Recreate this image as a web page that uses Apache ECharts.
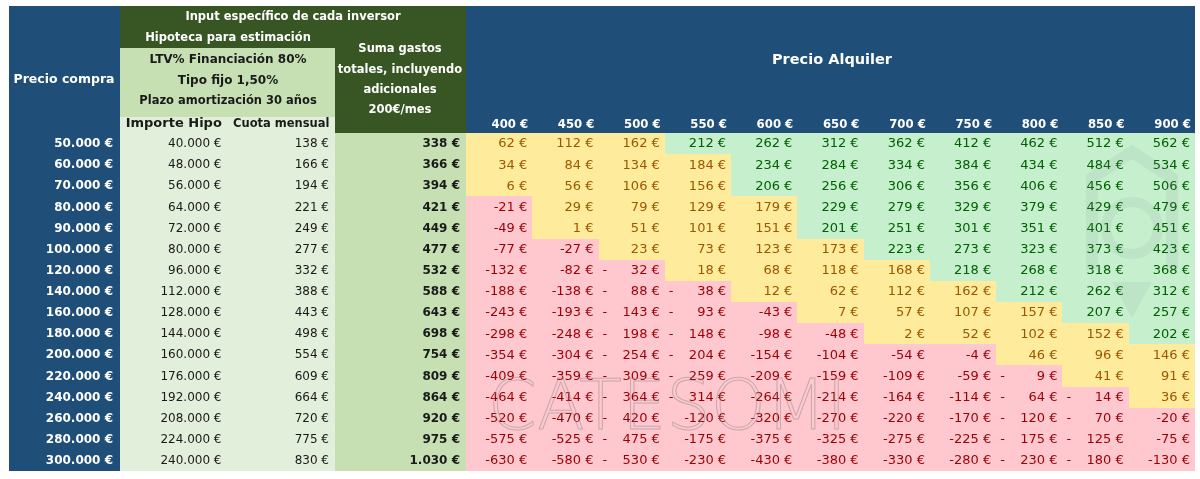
<!DOCTYPE html>
<html>
<head>
<meta charset="utf-8">
<script src="https://cdn.jsdelivr.net/npm/echarts@6/dist/echarts.min.js"></script>
<style>
  html, body { margin: 0; padding: 0; background: #ffffff; }
  #chart { width: 1200px; height: 479px; }
</style>
</head>
<body>
<div id="chart"></div>
<script>
// ---------------- DATA ----------------
const precioCompra = [50000, 60000, 70000, 80000, 90000, 100000, 120000, 140000, 160000, 180000, 200000, 220000, 240000, 260000, 280000, 300000];
const importeHipo = [40000, 48000, 56000, 64000, 72000, 80000, 96000, 112000, 128000, 144000, 160000, 176000, 192000, 208000, 224000, 240000];
const cuotaMensual = [138, 166, 194, 221, 249, 277, 332, 388, 443, 498, 554, 609, 664, 720, 775, 830];
const sumaGastos = [338, 366, 394, 421, 449, 477, 532, 588, 643, 698, 754, 809, 864, 920, 975, 1030];
const precioAlquiler = [400, 450, 500, 550, 600, 650, 700, 750, 800, 850, 900];
// Resultado mensual (alquiler - gastos) tal como aparece en la tabla
const resultado = [
  [62, 112, 162, 212, 262, 312, 362, 412, 462, 512, 562],
  [34, 84, 134, 184, 234, 284, 334, 384, 434, 484, 534],
  [6, 56, 106, 156, 206, 256, 306, 356, 406, 456, 506],
  [-21, 29, 79, 129, 179, 229, 279, 329, 379, 429, 479],
  [-49, 1, 51, 101, 151, 201, 251, 301, 351, 401, 451],
  [-77, -27, 23, 73, 123, 173, 223, 273, 323, 373, 423],
  [-132, -82, -32, 18, 68, 118, 168, 218, 268, 318, 368],
  [-188, -138, -88, -38, 12, 62, 112, 162, 212, 262, 312],
  [-243, -193, -143, -93, -43, 7, 57, 107, 157, 207, 257],
  [-298, -248, -198, -148, -98, -48, 2, 52, 102, 152, 202],
  [-354, -304, -254, -204, -154, -104, -54, -4, 46, 96, 146],
  [-409, -359, -309, -259, -209, -159, -109, -59, -9, 41, 91],
  [-464, -414, -364, -314, -264, -214, -164, -114, -64, -14, 36],
  [-520, -470, -420, -120, -320, -270, -220, -170, -120, -70, -20],
  [-575, -525, -475, -175, -375, -325, -275, -225, -175, -125, -75],
  [-630, -580, -530, -230, -430, -380, -330, -280, -230, -180, -130]
];
// Celdas con formato contable (signo "-" separado a la izquierda): [fila, columna]
const formatoContable = [];
for (let r = 6; r <= 15; r++) formatoContable.push([r, 2]);
for (let r = 7; r <= 12; r++) formatoContable.push([r, 3]);
for (let r = 11; r <= 15; r++) formatoContable.push([r, 8]);
for (let r = 12; r <= 15; r++) formatoContable.push([r, 9]);

// ---------------- HELPERS ----------------
const miles = n => String(Math.abs(n)).replace(/\B(?=(\d{3})+(?!\d))/g, '.');
const eur = n => (n < 0 ? '-' : '') + miles(n) + ' €';
const contable = new Set(formatoContable.map(p => p[0] + '_' + p[1]));

const FONT = '"DejaVu Sans", sans-serif';
const NARROW = '"Liberation Sans Narrow", "DejaVu Sans Condensed", sans-serif';
const BLUE = '#1f4e79';
const DKGREEN = '#375623';
const MDGREEN = '#c6e0b4';
const LTGREEN = '#e2efda';

function cellRect(c, s) {
  const x0 = Math.round(c[0] - s[0] / 2), x1 = Math.round(c[0] + s[0] / 2);
  const y0 = Math.round(c[1] - s[1] / 2), y1 = Math.round(c[1] + s[1] / 2);
  return { x: x0, y: y0, width: x1 - x0, height: y1 - y0 };
}

function cellRender(fill, color, font, pad) {
  return function (params, api) {
    const c = api.coord([api.value(0), api.value(1)]);
    const s = api.size([1, 1]);
    return {
      type: 'group',
      children: [
        { type: 'rect', shape: cellRect(c, s), style: { fill: fill } },
        { type: 'text', x: c[0] + s[0] / 2 - pad, y: c[1] + 0.5, style: { text: eur(api.value(2)), fill: color, font: font, align: 'right', verticalAlign: 'middle' } }
      ]
    };
  };
}

function heatRender(params, api) {
  const col = api.value(0), row = api.value(1), v = api.value(2);
  const c = api.coord([col, row]);
  const s = api.size([1, 1]);
  let bg, fg;
  if (v < 0) { bg = '#ffc7ce'; fg = '#9c0006'; }
  else if (v < 200) { bg = '#ffeb9c'; fg = '#9c5700'; }
  else { bg = '#c6efce'; fg = '#006100'; }
  const acc = contable.has(row + '_' + col) && v < 0;
  const font = '13px ' + FONT;
  const children = [
    { type: 'rect', shape: cellRect(c, s), style: { fill: bg } },
    { type: 'text', x: c[0] + s[0] / 2 - 5, y: c[1] + 0.5, style: { text: acc ? miles(v) + ' €' : eur(v), fill: fg, font: font, align: 'right', verticalAlign: 'middle' } }
  ];
  if (acc) {
    children.push({ type: 'text', x: c[0] - s[0] / 2 + 4, y: c[1] + 0.5, style: { text: '-', fill: fg, font: font, align: 'left', verticalAlign: 'middle' } });
  }
  return { type: 'group', children: children };
}

// ---------------- OPTION ----------------
const rows = precioCompra.map(String);
const gridTop = 133, gridH = 338;
const grids = [
  { left: 9, top: gridTop, width: 111, height: gridH },
  { left: 120, top: gridTop, width: 215, height: gridH },
  { left: 335, top: gridTop, width: 131, height: gridH },
  { left: 466, top: gridTop, width: 729, height: gridH }
];
const yAxes = grids.map((g, i) => ({ type: 'category', gridIndex: i, data: rows, inverse: true, show: false }));

const dataCompra = precioCompra.map((v, r) => [0, r, v]);
const dataHipo = [];
importeHipo.forEach((v, r) => dataHipo.push([0, r, v]));
cuotaMensual.forEach((v, r) => dataHipo.push([1, r, v]));
const dataSuma = sumaGastos.map((v, r) => [0, r, v]);
const dataHeat = [];
resultado.forEach((row, r) => row.forEach((v, c) => dataHeat.push([c, r, v])));

const W = '#ffffff';
const headerText = (txt, x, y, size, color, weight) => ({
  type: 'text', x: x, y: y, z: 10,
  style: { text: txt, fill: color || W, font: (weight || 'bold') + ' ' + size + 'px ' + FONT, align: 'center', verticalAlign: 'middle' }
});

const option = {
  animation: false,
  backgroundColor: '#ffffff',
  grid: grids,
  xAxis: [
    { type: 'category', gridIndex: 0, data: ['Precio compra'], show: false },
    {
      type: 'category', gridIndex: 1, data: ['Importe Hipo', 'Cuota mensual'], position: 'top',
      axisLine: { show: false }, axisTick: { show: false },
      axisLabel: {
        margin: 3, interval: 0, color: '#1a1a1a', fontFamily: FONT, fontWeight: 'bold', fontSize: 12,
        formatter: (v, i) => i === 0 ? '{a|' + v + '}' : '{b|' + v + '}',
        rich: { a: { fontSize: 13, fontWeight: 'bold', fontFamily: FONT, color: '#1a1a1a' }, b: { fontSize: 11.5, fontWeight: 'bold', fontFamily: FONT, color: '#1a1a1a' } }
      }
    },
    { type: 'category', gridIndex: 2, data: ['Suma gastos'], show: false },
    {
      type: 'category', gridIndex: 3, data: precioAlquiler.map(v => v + ' €'), position: 'top',
      axisLine: { show: false }, axisTick: { show: false },
      axisLabel: {
        margin: 2, interval: 0, color: W, fontSize: 13, fontWeight: 'bold', fontFamily: NARROW,
        formatter: v => '{a|' + v + '}',
        rich: { a: { width: 58, align: 'right', color: W, fontSize: 13, fontWeight: 'bold', fontFamily: NARROW } }
      }
    }
  ],
  yAxis: yAxes,
  graphic: [
    // header backgrounds
    { type: 'rect', shape: { x: 9, y: 6, width: 111, height: 128 }, style: { fill: BLUE }, z: 0 },
    { type: 'rect', shape: { x: 466, y: 6, width: 729, height: 128 }, style: { fill: BLUE }, z: 0 },
    { type: 'rect', shape: { x: 120, y: 6, width: 346, height: 42 }, style: { fill: DKGREEN }, z: 0 },
    { type: 'rect', shape: { x: 335, y: 6, width: 131, height: 128 }, style: { fill: DKGREEN }, z: 0 },
    { type: 'rect', shape: { x: 120, y: 48, width: 215, height: 69 }, style: { fill: MDGREEN }, z: 0 },
    { type: 'rect', shape: { x: 120, y: 117, width: 215, height: 17 }, style: { fill: LTGREEN }, z: 0 },
    // header texts
    headerText('Precio compra', 64, 80, 12.5),
    headerText('Input específico de cada inversor', 293, 17, 11.5),
    headerText('Hipoteca para estimación', 228, 38, 11.5),
    headerText('LTV% Financiación 80%', 228, 60, 12, '#1a1a1a'),
    headerText('Tipo fijo 1,50%', 228, 81, 12, '#1a1a1a'),
    headerText('Plazo amortización 30 años', 228, 101, 11.5, '#1a1a1a'),
    headerText('Suma gastos', 400, 49, 11.5),
    headerText('totales, incluyendo', 400, 70, 11.5),
    headerText('adicionales', 400, 90, 11.5),
    headerText('200€/mes', 400, 110, 11.5),
    headerText('Precio Alquiler', 832, 60, 14.5),
    // watermark
    {
      type: 'text', x: 488, y: 376, z: 20, silent: true,
      style: { text: 'CATESOMI', font: '200 70px "DejaVu Sans", sans-serif', fill: 'rgba(0,0,0,0)', stroke: 'rgba(140,140,140,0.5)', lineWidth: 1, align: 'left', verticalAlign: 'top' }
    },
    {
      type: 'polyline', z: 20, silent: true,
      shape: { points: [[1092, 270], [1092, 178], [1132, 152], [1172, 178], [1172, 270]] },
      style: { stroke: 'rgba(120,150,135,0.11)', lineWidth: 12, fill: null }
    },
    {
      type: 'circle', z: 20, silent: true,
      shape: { cx: 1132, cy: 228, r: 26 },
      style: { stroke: 'rgba(120,150,135,0.11)', lineWidth: 10, fill: null }
    },
    {
      type: 'polygon', z: 20, silent: true,
      shape: { points: [[1112, 282], [1152, 282], [1132, 318]] },
      style: { fill: 'rgba(120,150,135,0.11)' }
    }
  ],
  series: [
    { type: 'custom', xAxisIndex: 0, yAxisIndex: 0, data: dataCompra, renderItem: cellRender(BLUE, W, 'bold 12px ' + FONT, 7) },
    { type: 'custom', xAxisIndex: 1, yAxisIndex: 1, data: dataHipo, renderItem: cellRender(LTGREEN, '#1a1a1a', '12px ' + FONT, 6) },
    { type: 'custom', xAxisIndex: 2, yAxisIndex: 2, data: dataSuma, renderItem: cellRender(MDGREEN, '#1a1a1a', 'bold 12px ' + FONT, 6) },
    { type: 'custom', xAxisIndex: 3, yAxisIndex: 3, data: dataHeat, renderItem: heatRender }
  ]
};

const chart = echarts.init(document.getElementById('chart'), null, { renderer: 'canvas' });
chart.setOption(option);
</script>
</body>
</html>
